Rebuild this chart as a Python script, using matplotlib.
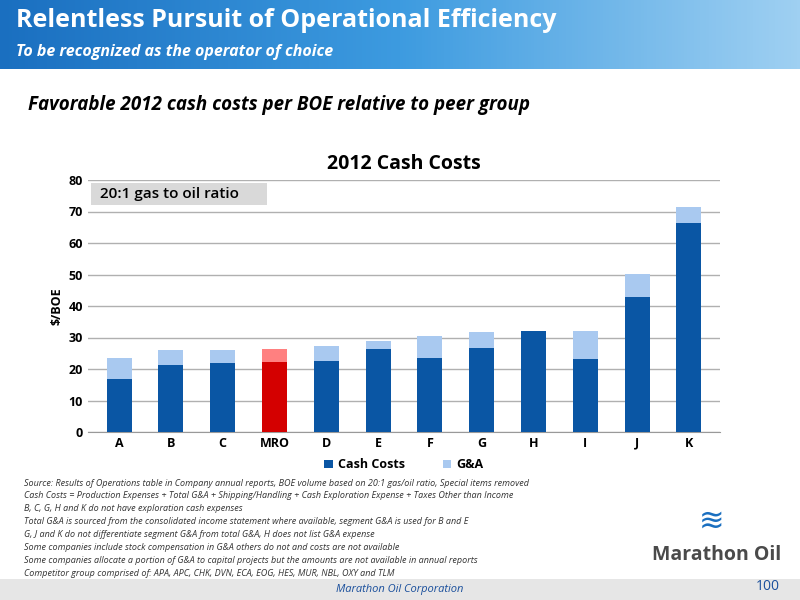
import matplotlib
matplotlib.use("Agg")
import matplotlib.pyplot as plt
import numpy as np
from matplotlib.patches import Rectangle
from matplotlib.colors import LinearSegmentedColormap

categories = ["A","B","C","MRO","D","E","F","G","H","I","J","K"]
cash_costs = [16.7,21.4,21.9,22.1,22.4,26.3,23.4,26.6,32.1,23.3,43.0,66.5]
totals =     [23.5,25.9,26.1,26.3,27.2,28.9,30.4,31.7,32.1,32.2,50.0,71.5]
ga = [t-c for t,c in zip(totals,cash_costs)]
yticks = [0,10,20,30,40,50,60,70,80]
notes = [
 "Source: Results of Operations table in Company annual reports, BOE volume based on 20:1 gas/oil ratio, Special items removed",
 "Cash Costs = Production Expenses + Total G&A + Shipping/Handling + Cash Exploration Expense + Taxes Other than Income",
 "B, C, G, H and K do not have exploration cash expenses",
 "Total G&A is sourced from the consolidated income statement where available, segment G&A is used for B and E",
 "G, J and K do not differentiate segment G&A from total G&A, H does not list G&A expense",
 "Some companies include stock compensation in G&A others do not and costs are not available",
 "Some companies allocate a portion of G&A to capital projects but the amounts are not available in annual reports",
 "Competitor group comprised of: APA, APC, CHK, DVN, ECA, EOG, HES, MUR, NBL, OXY and TLM",
]

plt.rcParams['font.family'] = ['Open Sans','DejaVu Sans']
fig = plt.figure(figsize=(8,6), dpi=100)

hdr = fig.add_axes([0,0.885,1,0.115]); hdr.axis('off')
grad = np.linspace(0,1,256).reshape(1,-1)
cm = LinearSegmentedColormap.from_list('h',['#1a6fc0','#3d9be0','#9fd0f2'])
hdr.imshow(grad, aspect='auto', cmap=cm, extent=[0,1,0,1])
hdr.set_xlim(0,1); hdr.set_ylim(0,1)
hdr.text(0.02,0.70,"Relentless Pursuit of Operational Efficiency",color='white',fontsize=18,fontweight='bold',va='center')
hdr.text(0.02,0.25,"To be recognized as the operator of choice",color='white',fontsize=11.5,fontweight='bold',style='italic',va='center')

fig.text(0.035,0.825,"Favorable 2012 cash costs per BOE relative to peer group",fontsize=13.5,fontweight='bold',style='italic',va='center')

ax = fig.add_axes([0.11,0.28,0.79,0.42])
x = np.arange(len(categories))
dark = ['#d40000' if c=="MRO" else '#0a56a4' for c in categories]
light = ['#ff8080' if c=="MRO" else '#a9c9f0' for c in categories]
ax.bar(x, cash_costs, width=0.48, color=dark, label="Cash Costs", zorder=3)
ax.bar(x, ga, bottom=cash_costs, width=0.48, color=light, label="G&A", zorder=3)
ax.set_ylim(0,80); ax.set_xlim(-0.6,len(categories)-0.4)
ax.set_yticks(yticks)
ax.set_xticks(x); ax.set_xticklabels(categories)
ax.tick_params(labelsize=9, length=0)
for l in ax.get_xticklabels()+ax.get_yticklabels(): l.set_fontweight('bold')
ax.grid(axis='y', color='#b0b0b0', lw=1, zorder=0)
for s in ['top','right','left']: ax.spines[s].set_visible(False)
ax.spines['bottom'].set_color('#999999')
ax.set_ylabel("$/BOE", fontsize=9, fontweight='bold')
ax.set_title("2012 Cash Costs", fontsize=14, fontweight='bold', pad=8)
ax.text(0.012,0.945," 20:1 gas to oil ratio      ",fontsize=11,fontweight='semibold',va='center',
        bbox=dict(facecolor='#d9d9d9',edgecolor='none',pad=3), zorder=4, transform=ax.transAxes)
leg = ax.legend(loc='upper center', bbox_to_anchor=(0.5,-0.06), ncol=2, frameon=False, fontsize=9,
          handlelength=0.7, handleheight=0.7, columnspacing=3, handletextpad=0.4)
for t in leg.get_texts(): t.set_fontweight('bold')

y0 = 0.195
for i,n in enumerate(notes):
    fig.text(0.03, y0 - i*0.0215, n, fontsize=6.5, style='italic', color='#333333', va='center')

fig.text(0.815,0.075,"Marathon Oil",fontsize=14,fontweight='bold',color='#4a4a4a',va='center')
fig.text(0.89,0.13,"≋",fontsize=22,color='#1a6fc0',va='center',ha='center')

ftr = fig.add_axes([0,0,1,0.035]); ftr.axis('off')
ftr.add_patch(Rectangle((0,0),1,1,color='#e6e6e6',transform=ftr.transAxes))
fig.text(0.5,0.018,"Marathon Oil Corporation",fontsize=8,style='italic',color='#1a4f9c',ha='center',va='center')
fig.text(0.96,0.022,"100",fontsize=10,color='#1a4f9c',ha='center',va='center')

fig.savefig("out.png", dpi=100)
